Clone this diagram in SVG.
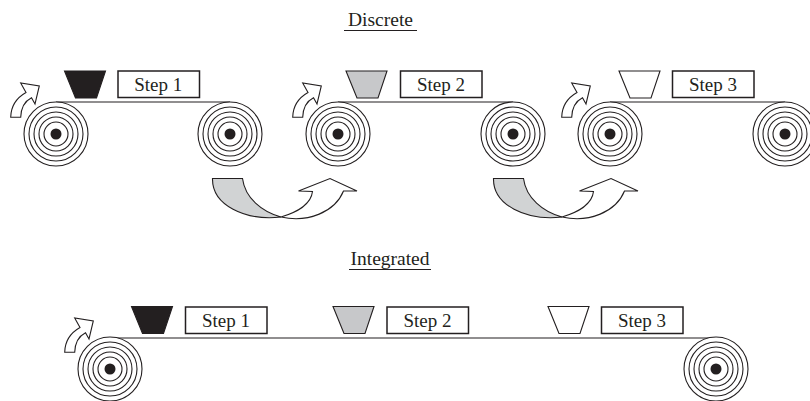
<svg xmlns="http://www.w3.org/2000/svg" xmlns:xlink="http://www.w3.org/1999/xlink" width="810" height="401" viewBox="0 0 810 401">
<style>
text{font-family:"Liberation Serif","Times New Roman",serif;fill:#231f20}
.title{font-size:19.500px;text-anchor:middle}
.lbl{font-size:19px;text-anchor:middle}
.box{fill:#fff;stroke:#231f20;stroke-width:1.5}
.ring{fill:#fff;stroke:#231f20;stroke-width:1.1}
.belt{fill:none;stroke:#231f20;stroke-width:1.2}
.out{stroke:#231f20;stroke-width:1.1;stroke-linejoin:miter}
</style>
<defs>
<g id="roll">
<circle class="ring" r="32"/><circle class="ring" r="27"/><circle class="ring" r="22"/><circle class="ring" r="17"/><circle class="ring" r="12"/>
<circle r="5.500" fill="#231f20"/>
</g>
<path id="curl" class="out" fill="#fff" d="M10.700 117.300C11 105 18 97 26 92.500L20.700 83L39.300 86L35 104L31.500 97.700C25 101 21 108 20.700 117.300Z"/>
<path id="trap" class="out" d="M0 0H41L32 27H11Z"/>
<g id="swoop">
<path class="out" fill="#d1d3d4" d="M212.500 178.500H242.500C245 198 262 212 281 217C245 221 212 205 212.500 178.500Z"/>
<path class="out" fill="#fff" d="M281 217C297 212 311 205 312.500 191.500L298.500 191L330 178.500L357 191L343.500 191C335 212 308 223 281 217Z"/>
</g>
</defs>
<g id="connectors">
<path class="belt" d="M56 102H230"/>
<path class="belt" d="M338 102H513"/>
<path class="belt" d="M610 102H785"/>
<path class="belt" d="M110 338H716"/>
<use xlink:href="#curl" href="#curl"/>
<use xlink:href="#curl" href="#curl" x="282"/>
<use xlink:href="#curl" href="#curl" x="551"/>
<use xlink:href="#curl" href="#curl" x="54" y="235"/>
<use xlink:href="#swoop" href="#swoop"/>
<use xlink:href="#swoop" href="#swoop" x="281"/>
</g>
<g id="title-discrete"><text class="title" x="380.500" y="25.500">Discrete</text><path class="belt" d="M344 30.500H417"/></g>
<g id="title-integrated"><text class="title" x="390" y="265">Integrated</text><path class="belt" d="M349 269.500H431"/></g>
<g id="roll-d1a"><use xlink:href="#roll" href="#roll" x="56" y="134"/></g>
<g id="roll-d1b"><use xlink:href="#roll" href="#roll" x="230" y="134"/></g>
<g id="roll-d2a"><use xlink:href="#roll" href="#roll" x="338" y="134"/></g>
<g id="roll-d2b"><use xlink:href="#roll" href="#roll" x="513" y="134"/></g>
<g id="roll-d3a"><use xlink:href="#roll" href="#roll" x="610" y="134"/></g>
<g id="roll-d3b"><use xlink:href="#roll" href="#roll" x="785" y="134"/></g>
<g id="roll-ia"><use xlink:href="#roll" href="#roll" x="110" y="369"/></g>
<g id="roll-ib"><use xlink:href="#roll" href="#roll" x="716" y="369"/></g>
<g id="trap-d1"><use xlink:href="#trap" href="#trap" x="64.500" y="71" fill="#231f20"/></g>
<g id="trap-d2"><use xlink:href="#trap" href="#trap" x="346" y="71" fill="#c7c8ca"/></g>
<g id="trap-d3"><use xlink:href="#trap" href="#trap" x="619" y="71" fill="#fff"/></g>
<g id="trap-i1"><use xlink:href="#trap" href="#trap" x="131.500" y="306.500" fill="#231f20"/></g>
<g id="trap-i2"><use xlink:href="#trap" href="#trap" x="333" y="306.500" fill="#c7c8ca"/></g>
<g id="trap-i3"><use xlink:href="#trap" href="#trap" x="548" y="306.500" fill="#fff"/></g>
<g id="step-d1"><rect class="box" x="118" y="71" width="81.500" height="26.500"/><text class="lbl" x="158.200" y="90.500">Step 1</text></g>
<g id="step-d2"><rect class="box" x="400.500" y="71" width="81.500" height="26.500"/><text class="lbl" x="441" y="90.500">Step 2</text></g>
<g id="step-d3"><rect class="box" x="672.500" y="71" width="81.500" height="26.500"/><text class="lbl" x="713" y="90.500">Step 3</text></g>
<g id="step-i1"><rect class="box" x="185.500" y="307" width="81.500" height="26.500"/><text class="lbl" x="226" y="326.500">Step 1</text></g>
<g id="step-i2"><rect class="box" x="387" y="307" width="81.500" height="26.500"/><text class="lbl" x="427.500" y="326.500">Step 2</text></g>
<g id="step-i3"><rect class="box" x="601.500" y="307" width="81.500" height="26.500"/><text class="lbl" x="642" y="326.500">Step 3</text></g>
</svg>
